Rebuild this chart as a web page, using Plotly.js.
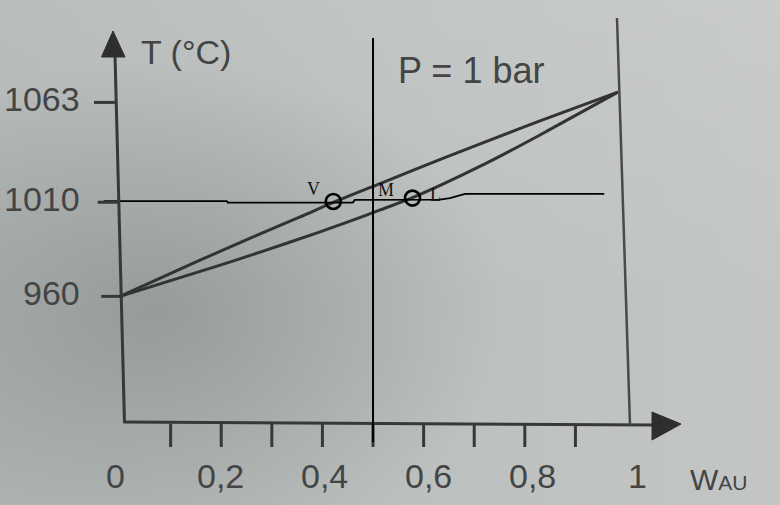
<!DOCTYPE html>
<html><head><meta charset="utf-8">
<script src="https://cdn.plot.ly/plotly-3.0.1.min.js"></script>
<style>
html,body{margin:0;padding:0;}
body{width:780px;height:505px;overflow:hidden;
background:
 radial-gradient(ellipse 45% 50% at 20% 62%, rgba(118,126,124,0.50), rgba(118,126,124,0) 100%),
 linear-gradient(to bottom, rgba(255,255,255,0.10), rgba(255,255,255,0) 60%),
 linear-gradient(to right, #b1b6b5, #bcc0bf 55%, #c3c6c5);}
#chart{width:780px;height:505px;}
</style></head><body><div id="chart"></div>
<script>
// ---- data ----
const dewW = [0, 0.158, 0.277, 0.356, 0.4215, 0.514, 0.638, 0.791, 0.830, 0.984];
const dewT = [960, 979.2, 993.2, 1002.2, 1009.9, 1019.9, 1033.3, 1049.2, 1053.2, 1068.5];
const bubW = [0, 0.198, 0.277, 0.401, 0.441, 0.514, 0.578, 0.711, 0.830, 0.850, 0.984];
const bubT = [960, 976.6, 983.5, 994.8, 998.6, 1005.9, 1012.4, 1029, 1045.7, 1048.7, 1068.5];
const tieW = [-0.032, 0.211, 0.213, 0.460, 0.464, 0.632, 0.652, 0.668, 0.682, 0.957];
const tieT = [1010.6, 1010.6, 1009.8, 1009.8, 1011.2, 1011.4, 1012.2, 1013.3, 1014.4, 1014.4];
const pointNames = ['V', 'L'];
const pointW = [0.4215, 0.578];
const pointT = [1010.4, 1012.2];
const mixName = 'M';
const mixW = 0.5;
const mixT = 1010.6;
const xTicks = [0.1, 0.2, 0.3, 0.4, 0.5, 0.6, 0.7, 0.8, 0.9];
const xLabelVals = [0, 0.2, 0.4, 0.6, 0.8, 1];
const xLabelText = ['0', '0,2', '0,4', '0,6', '0,8', '1'];
const yTicks = [960, 1010, 1063];
const yTickText = ['960', '1010', '1063'];
const yTitle = 'T (°C)';
const xTitle = 'W<span style="font-size:21px">AU</span>';
const pressureText = 'P = 1 bar';

// ---- helpers (canvas pixel -> paper fraction) ----
const WD = 780, HT = 505;
const PX = p => p / WD;
const PY = p => 1 - p / HT;
const gray = '#383838';
const txt = '#444';
const sans = 'Liberation Sans, Arial, sans-serif';

const shapes = [];
function seg(x0, y0, x1, y1, color, width) {
  shapes.push({type: 'line', xref: 'paper', yref: 'paper',
    x0: PX(x0), y0: PY(y0), x1: PX(x1), y1: PY(y1),
    line: {color: color, width: width}});
}
function tri(pts, color) {
  const d = pts.map((p, i) => (i ? 'L' : 'M') + PX(p[0]) + ',' + PY(p[1])).join(' ') + ' Z';
  shapes.push({type: 'path', xref: 'paper', yref: 'paper', path: d,
    fillcolor: color, line: {color: color, width: 1}});
}
// axes
seg(115, 55, 124.5, 423, gray, 3);
tri([[113, 31], [101.5, 57], [125, 57]], '#2e2e2e');
seg(123.5, 422, 656, 425, gray, 3);
tri([[681, 424], [652, 412], [652, 440]], '#2e2e2e');
// right boundary line
seg(617, 18, 630, 425, '#4a4a4a', 2.5);
// x ticks
xTicks.forEach(v => shapes.push({type: 'line', xref: 'x', yref: 'paper',
  x0: v, x1: v, y0: PY(424), y1: PY(447), line: {color: gray, width: 3}}));
// y tick dashes
yTicks.forEach(v => {
  const xe = 116 + (1063 - v) * 0.07;
  shapes.push({type: 'line', xref: 'paper', yref: 'y',
    x0: PX(xe - 22), x1: PX(xe), y0: v, y1: v, line: {color: gray, width: 3}});
});
// construction line through M
shapes.push({type: 'line', xref: 'x', yref: 'paper', x0: mixW, x1: mixW,
  y0: PY(442), y1: PY(38), line: {color: '#000', width: 2}});

const traces = [
  {x: dewW, y: dewT, mode: 'lines', line: {color: '#333', width: 3, shape: 'spline', smoothing: 0.8},
   hoverinfo: 'skip', showlegend: false},
  {x: bubW, y: bubT, mode: 'lines', line: {color: '#333', width: 3, shape: 'spline', smoothing: 0.8},
   hoverinfo: 'skip', showlegend: false},
  {x: tieW, y: tieT, mode: 'lines', line: {color: '#000', width: 1.8},
   hoverinfo: 'skip', showlegend: false},
  {x: pointW, y: pointT, mode: 'markers',
   marker: {symbol: 'circle-open', size: 15, color: '#000', line: {width: 2.6, color: '#000'}},
   hoverinfo: 'skip', showlegend: false},
  {x: [], y: [], xaxis: 'x2', yaxis: 'y', mode: 'markers', showlegend: false, hoverinfo: 'skip'}
];

const annotations = [];
const serif = {family: 'Liberation Serif, Times New Roman, serif', size: 18, color: '#111'};
annotations.push({x: pointW[0], y: pointT[0], xref: 'x', yref: 'y', text: pointNames[0],
  showarrow: false, xshift: -20, yshift: 12, font: serif});
annotations.push({x: pointW[1], y: pointT[1], xref: 'x', yref: 'y', text: pointNames[1],
  showarrow: false, xshift: 23, yshift: 3, font: serif});
annotations.push({x: mixW, y: mixT, xref: 'x', yref: 'y', text: mixName,
  showarrow: false, xshift: 13, yshift: 11, font: serif});
yTicks.forEach((v, i) => annotations.push({x: PX(82), y: v, xref: 'paper', yref: 'y',
  xanchor: 'right', yanchor: 'middle', yshift: 3, text: yTickText[i], showarrow: false,
  font: {family: sans, size: 34, color: txt}}));
xLabelVals.forEach((v, i) => annotations.push({x: v, y: PY(476), xref: 'x2', yref: 'paper',
  xanchor: 'center', yanchor: 'middle', text: xLabelText[i], showarrow: false,
  font: {family: sans, size: 34, color: txt}}));
annotations.push({x: PX(185.5), y: PY(52), xref: 'paper', yref: 'paper', text: yTitle,
  showarrow: false, xanchor: 'center', yanchor: 'middle', font: {family: sans, size: 34, color: txt}});
annotations.push({x: PX(471.5), y: PY(70), xref: 'paper', yref: 'paper', text: pressureText,
  showarrow: false, xanchor: 'center', yanchor: 'middle', font: {family: sans, size: 36, color: txt}});
annotations.push({x: PX(718.5), y: PY(479), xref: 'paper', yref: 'paper', text: xTitle,
  showarrow: false, xanchor: 'center', yanchor: 'middle', font: {family: sans, size: 30, color: txt}});

const hidden = {showgrid: false, zeroline: false, showline: false, showticklabels: false, ticks: ''};
const layout = {
  width: WD, height: HT, margin: {l: 0, r: 0, t: 0, b: 0},
  paper_bgcolor: 'rgba(0,0,0,0)', plot_bgcolor: 'rgba(0,0,0,0)',
  xaxis: Object.assign({range: [-0.2372, 1.3043], autorange: false}, hidden),
  xaxis2: Object.assign({range: [-0.2221, 1.2739], autorange: false, overlaying: 'x'}, hidden),
  yaxis: Object.assign({range: [849.2, 1117.4], autorange: false}, hidden),
  shapes: shapes, annotations: annotations, showlegend: false
};
Plotly.newPlot('chart', traces, layout, {staticPlot: true, displayModeBar: false});
</script></body></html>
